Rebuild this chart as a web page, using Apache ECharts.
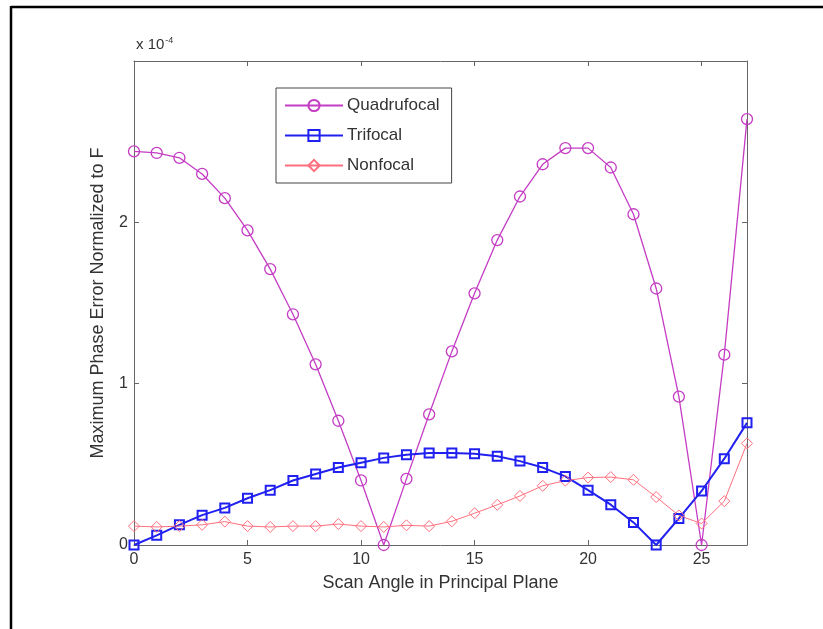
<!DOCTYPE html>
<html>
<head>
<meta charset="utf-8">
<title>Maximum Phase Error</title>
<script src="https://cdn.jsdelivr.net/npm/echarts@6/dist/echarts.min.js"></script>
<style>
  html, body { margin: 0; padding: 0; background: #fff; }
  #main { width: 823px; height: 629px; }
</style>
</head>
<body>
<div id="main"></div>
<script>
// scan angle (deg) and phase error values, in units of 1e-4
var scanAngles = [0,1,2,3,4,5,6,7,8,9,10,11,12,13,14,15,16,17,18,19,20,21,22,23,24,25,26,27];
var quadrufocal = [2.44,2.43,2.40,2.30,2.15,1.95,1.71,1.43,1.12,0.77,0.40,0.00,0.41,0.81,1.20,1.56,1.89,2.16,2.36,2.46,2.46,2.34,2.05,1.59,0.92,0.00,1.18,2.64];
var trifocal = [0.00,0.06,0.125,0.185,0.23,0.29,0.34,0.40,0.44,0.48,0.51,0.54,0.56,0.57,0.57,0.565,0.55,0.52,0.48,0.425,0.34,0.25,0.14,0.00,0.165,0.335,0.535,0.757];
var nonfocal = [0.117,0.112,0.117,0.125,0.145,0.117,0.112,0.117,0.117,0.13,0.117,0.112,0.122,0.117,0.147,0.197,0.249,0.304,0.367,0.399,0.418,0.421,0.404,0.297,0.183,0.133,0.272,0.63];
var seriesNames = ['Quadrufocal', 'Trifocal', 'Nonfocal'];
var xTicks = [0, 5, 10, 15, 20, 25];
var yTicks = [0, 1, 2];

function pairs(ys) {
  return scanAngles.map(function (x, i) { return [x, ys[i]]; });
}

var myChart = echarts.init(document.getElementById('main'));
var txt = '#333';
var axisCol = '#666';

var option = {
  backgroundColor: '#fff',
  animation: false,
  textStyle: { fontFamily: 'Liberation Sans, Arial, sans-serif' },
  grid: { left: 134, right: 76, top: 61, bottom: 84 },
  legend: {
    orient: 'vertical',
    left: 276,
    top: 88,
    padding: [9, 12, 9, 8],
    itemWidth: 58,
    itemHeight: 14,
    itemGap: 13,
    borderColor: '#444',
    borderWidth: 1,
    backgroundColor: '#fff',
    textStyle: { color: txt, fontSize: 17, padding: [0, 0, 0, -1] },
    data: seriesNames
  },
  xAxis: [{
    type: 'value', min: 0, max: 27, interval: 5,
    name: 'Scan Angle in Principal Plane',
    nameLocation: 'middle', nameGap: 29,
    nameTextStyle: { color: txt, fontSize: 18 },
    axisLine: { show: true, onZero: false, lineStyle: { color: axisCol } },
    axisTick: { inside: true, length: 5, lineStyle: { color: axisCol } },
    axisLabel: {
      color: txt, fontSize: 16, margin: 7,
      formatter: function (v) { return xTicks.indexOf(v) >= 0 ? String(v) : ''; }
    },
    splitLine: { show: false }
  }, {
    type: 'value', min: 0, max: 27, interval: 5, position: 'top',
    axisLine: { show: true, onZero: false, lineStyle: { color: axisCol } },
    axisTick: { inside: true, length: 5, lineStyle: { color: axisCol } },
    axisLabel: { show: false },
    splitLine: { show: false }
  }],
  yAxis: [{
    type: 'value', min: 0, max: 3, interval: 1,
    name: 'Maximum Phase Error Normalized to F',
    nameLocation: 'middle', nameGap: 27,
    nameTextStyle: { color: txt, fontSize: 18 },
    axisLine: { show: true, onZero: false, lineStyle: { color: axisCol } },
    axisTick: { inside: true, length: 5, lineStyle: { color: axisCol } },
    axisLabel: {
      color: txt, fontSize: 16, margin: 6,
      formatter: function (v) { return yTicks.indexOf(v) >= 0 ? String(v) : ''; }
    },
    splitLine: { show: false }
  }, {
    type: 'value', min: 0, max: 3, interval: 1, position: 'right',
    axisLine: { show: true, onZero: false, lineStyle: { color: axisCol } },
    axisTick: { inside: true, length: 5, lineStyle: { color: axisCol } },
    axisLabel: { show: false },
    splitLine: { show: false }
  }],
  graphic: [
    {
      type: 'text', left: 136, top: 36,
      style: {
        text: 'x 10{s|-4}',
        fill: txt, fontSize: 15, fontFamily: 'Liberation Sans, Arial, sans-serif',
        rich: { s: { fontSize: 9, verticalAlign: 'top', padding: [0, 0, 8, 1], fill: txt } }
      }
    },
    { type: 'line', shape: { x1: 11, y1: 7, x2: 823, y2: 7 }, style: { stroke: '#000', lineWidth: 2.5 } },
    { type: 'line', shape: { x1: 11, y1: 6, x2: 11, y2: 629 }, style: { stroke: '#000', lineWidth: 2.5 } }
  ],
  series: [{
    name: 'Quadrufocal', type: 'line',
    data: pairs(quadrufocal),
    symbol: 'circle', symbolSize: 11,
    lineStyle: { color: '#c43cc4', width: 1.3 },
    itemStyle: { color: 'rgba(255,255,255,0)', borderColor: '#c43cc4', borderWidth: 1.3 }
  }, {
    name: 'Trifocal', type: 'line',
    data: pairs(trifocal),
    symbol: 'rect', symbolSize: 9,
    lineStyle: { color: '#2020f0', width: 2 },
    itemStyle: { color: 'rgba(255,255,255,0)', borderColor: '#2020f0', borderWidth: 2 }
  }, {
    name: 'Nonfocal', type: 'line',
    data: pairs(nonfocal),
    symbol: 'diamond', symbolSize: 11,
    lineStyle: { color: '#ff6f7d', width: 1 },
    itemStyle: { color: 'rgba(255,255,255,0)', borderColor: '#ff6f7d', borderWidth: 1 }
  }]
};

myChart.setOption(option);
</script>
</body>
</html>
